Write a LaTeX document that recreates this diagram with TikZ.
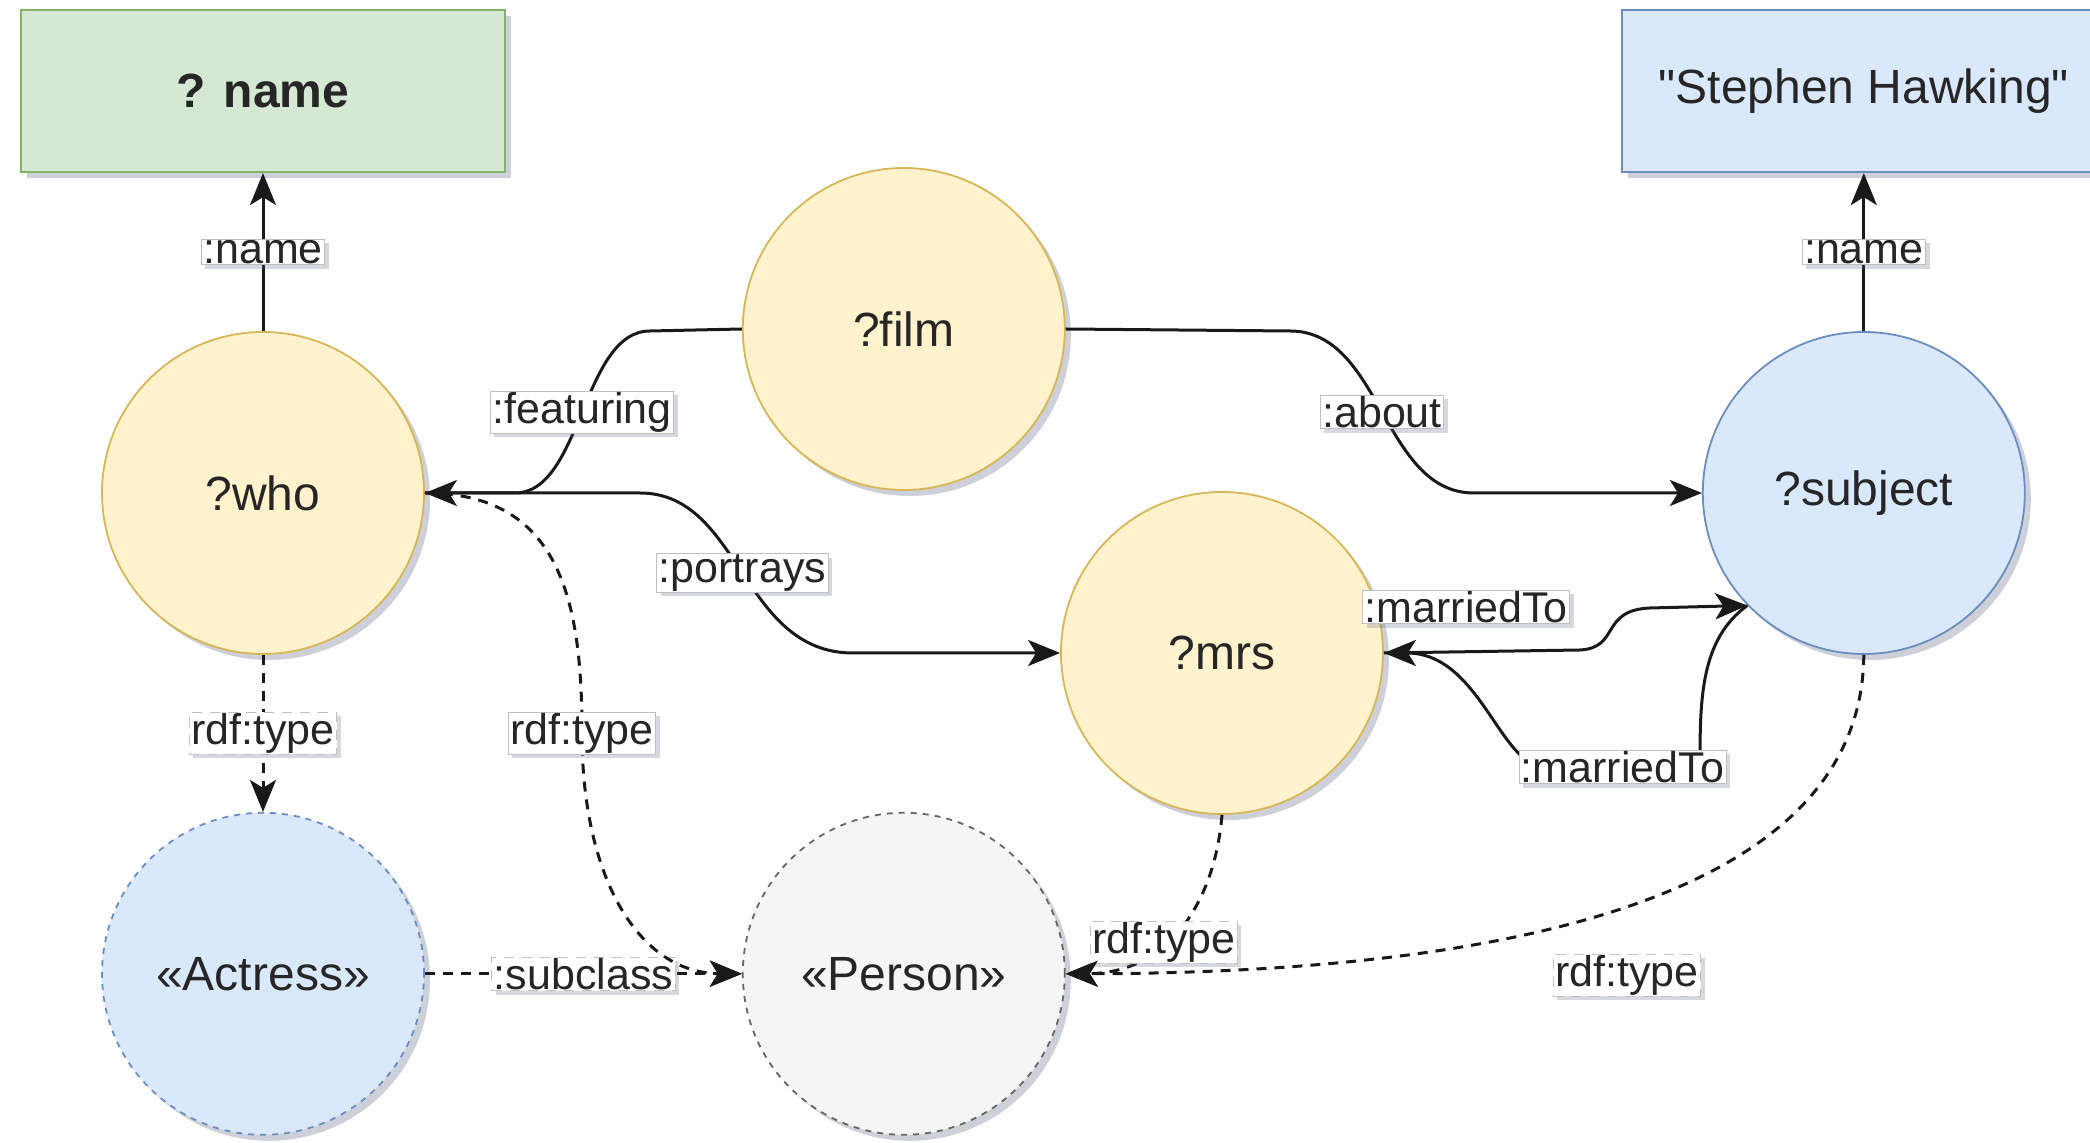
\documentclass[tikz,border=0pt]{standalone}
\usepackage{fontspec}
\setmainfont{Liberation Sans}[Ligatures=TeXOff]
\usepackage{tikz}
\usetikzlibrary{positioning}
\usetikzlibrary{arrows.meta}
\usetikzlibrary{shadows}

\definecolor{yfill}{HTML}{FFF2CC}
\definecolor{yline}{HTML}{D6B656}
\definecolor{bfill}{HTML}{DAE8FC}
\definecolor{bline}{HTML}{6C8EBF}
\definecolor{gfill}{HTML}{D5E8D4}
\definecolor{gline}{HTML}{82B366}
\definecolor{pfill}{HTML}{F5F5F5}
\definecolor{pline}{HTML}{666666}
\definecolor{shade}{HTML}{5A6380}

\def\nfont{\fontsize{24}{28}\selectfont}
\def\lfont{\fontsize{21.5}{25}\selectfont}

\tikzset{
	shad/.style={drop shadow={shadow xshift=3pt, shadow yshift=-3pt, opacity=0.3, fill=shade}},
	node/.style={circle, line width=0.9pt, minimum size=161pt, inner sep=0pt, font=\nfont, text=black!85, shad},
	var/.style={node, draw=yline, fill=yfill},
	res/.style={node, draw=bline, fill=bfill},
	cls/.style={node, draw=bline, fill=bfill, dashed},
	top/.style={node, draw=pline, fill=pfill, dashed},
	lit/.style={rectangle, line width=0.9pt, minimum width=242pt, minimum height=81pt, font=\nfont, text=black!85, shad},
	lbl/.style={rectangle, fill=white, draw=black!25, line width=0.4pt, inner xsep=1pt, inner ysep=0.5pt, font=\lfont, text=black!85,
		drop shadow={shadow xshift=2pt, shadow yshift=-2pt, opacity=0.25, fill=shade}},
	rel/.style={-{Stealth[length=16pt, width=13pt, inset=4pt]}, line width=1.5pt, draw=black!90},
	typ/.style={rel, dash pattern=on 5pt off 4pt}
}

\begin{document}
\begin{tikzpicture}[x=0.5pt, y=-0.5pt]
		\useasboundingbox (0,0) rectangle (2090,1143);
		\node[var] (who) at (263,493) {?who};
		\node[lit, draw=gline, fill=gfill, above=79pt of who] (qname) {\textbf{? name}};
		\node[cls, below=78.5pt of who] (actress) {«Actress»};
		\node[top, right=158.5pt of actress] (person) {«Person»};
		\node[var, above=160.5pt of person] (film) {?film};
		\node[res, right=638.5pt of who] (subj) {?subject};
		\node[var] (mrs) at (1222,653) {?mrs};
		\node[lit, draw=bline, fill=bfill, above=79pt of subj] (hawking) {"Stephen Hawking"};

		\draw[rel] (who) -- node[lbl] {:name} (qname);
		\draw[rel] (subj) -- node[lbl] {:name} (hawking);
		\draw[rel] (film.west) -- (650,331) .. controls (582,331) and (582,493) .. (515,493)
		node[lbl, midway] {:featuring} -- (who.east);
		\draw[rel] (film.east) -- (1290,331) .. controls (1382,331) and (1382,493) .. (1474,493)
		node[lbl, midway] {:about} -- (subj.west);
		\draw[rel] (who.east) -- (640,493) .. controls (741,493) and (741,653) .. (853,653)
		node[lbl, midway] {:portrays} -- (mrs.west);
		\draw[rel] (mrs.east) -- node[lbl, pos=0.42, yshift=22.5pt] {:marriedTo} (1580,650)
		.. controls (1620,648) and (1600,610) .. (1650,608) -- (subj.224);
		\draw[rel] (subj.224) .. controls (1700,640) and (1700,700) .. (1700,767)
		-- node[lbl] {:marriedTo} (1545,767) .. controls (1500,767) and (1480,653) .. (mrs.east);

		\draw[typ] (actress) -- node[lbl] {:subclass} (person);
		\draw[typ] (who) -- node[lbl] {rdf:type} (actress);
		\draw[typ] (who.east) .. controls (560,493) and (582,600) .. (582,733)
		.. controls (582,880) and (640,973) .. (person.west);
		\node[lbl] (whotype) at (582,733) {rdf:type};
		\draw[typ] (mrs.south) .. controls (1215,900) and (1170,973) .. (person.east)
		node[lbl, pos=0.6] {rdf:type};
		\draw[typ] (subj.south) .. controls (1862,900) and (1500,973) .. (person.east)
		node[lbl, pos=0.5, yshift=-34.5pt] {rdf:type};
\end{tikzpicture}
\end{document}
